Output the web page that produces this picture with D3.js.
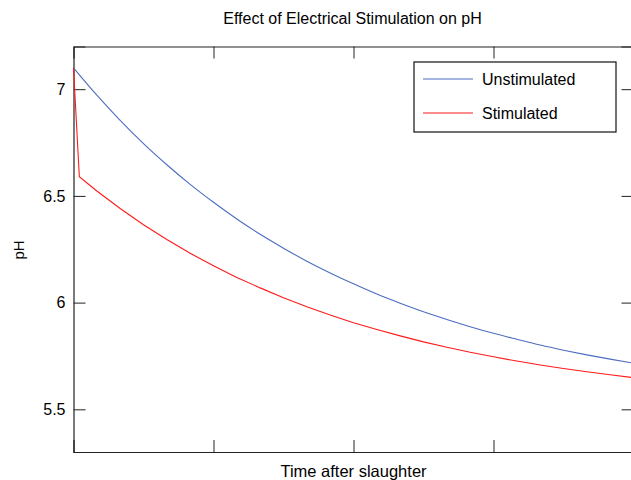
<!DOCTYPE html>
<html>
<head>
<meta charset="utf-8">
<script src="https://cdn.jsdelivr.net/npm/d3@7"></script>
<style>
  body { margin: 0; background: #fff; }
  svg { display: block; font-family: "Liberation Sans", Arial, sans-serif; }
  .axis path, .axis line { stroke: #222; }
</style>
</head>
<body>
<svg id="chart" width="631" height="480"></svg>
<script>
// time after slaughter (hours) and pH readings
var hours = [0, 1, 2, 3, 4, 5, 6, 7, 8, 9, 10, 11, 12, 13, 14, 15, 16, 17, 18, 19, 20, 21, 22, 23, 24];
var unstimulated = [7.100, 6.972, 6.854, 6.745, 6.646, 6.554, 6.470, 6.392, 6.320, 6.255, 6.194, 6.139, 6.088,
                    6.040, 5.997, 5.957, 5.921, 5.887, 5.856, 5.828, 5.801, 5.777, 5.755, 5.735, 5.716];
var stimHours = [0, 0.25, 1, 2, 3, 4, 5, 6, 7, 8, 9, 10, 11, 12, 13, 14, 15, 16, 17, 18, 19, 20, 21, 22, 23, 24];
var stimulated = [7.100, 6.590, 6.523, 6.441, 6.365, 6.296, 6.231, 6.173, 6.118, 6.069, 6.023, 5.981, 5.942, 5.906,
                  5.874, 5.844, 5.816, 5.791, 5.767, 5.746, 5.726, 5.708, 5.691, 5.676, 5.662, 5.648];
var seriesNames = ['Unstimulated', 'Stimulated'];
var seriesColors = ['#4d6dc2', '#ff1a1a'];
var yTicks = [5.5, 6, 6.5, 7];
var xTicks = [6, 12, 18];

var svg = d3.select('#chart');
var margin = {t: 46.5, r: -2.5, b: 28, l: 73.5};
var svgWidth = +svg.attr('width');
var svgHeight = +svg.attr('height');
var chartWidth = svgWidth - margin.l - margin.r;
var chartHeight = svgHeight - margin.t - margin.b;

var xScale = d3.scaleLinear().domain([0, 24]).range([0, chartWidth]);
var yScale = d3.scaleLinear().domain([5.3, 7.2]).range([chartHeight, 0]);

var g = svg.append('g').attr('transform', 'translate(' + [margin.l, margin.t] + ')');

// axes with inward ticks on all four sides
g.append('g').attr('class', 'axis')
    .attr('transform', 'translate(0,' + chartHeight + ')')
    .call(d3.axisTop(xScale).tickValues(xTicks).tickSize(12).tickFormat(''));
g.append('g').attr('class', 'axis')
    .call(d3.axisBottom(xScale).tickValues(xTicks).tickSize(12).tickFormat(''));
g.append('g').attr('class', 'axis y')
    .call(d3.axisRight(yScale).tickValues(yTicks).tickSize(12).tickFormat(d3.format('')));
g.append('g').attr('class', 'axis')
    .attr('transform', 'translate(' + chartWidth + ',0)')
    .call(d3.axisLeft(yScale).tickValues(yTicks).tickSize(12).tickFormat(''));

g.selectAll('.axis path').attr('stroke-width', 1.2);

// left tick labels sit outside the axis
g.select('.axis.y').selectAll('text')
    .attr('x', -8)
    .attr('text-anchor', 'end')
    .attr('fill', '#000')
    .style('font-size', '16px')
    .style('font-family', '"Liberation Sans", Arial, sans-serif');

var line = d3.line()
    .x(function(d) { return xScale(d[0]); })
    .y(function(d) { return yScale(d[1]); });

var blueData = hours.map(function(h, i) { return [h, unstimulated[i]]; });
var redData = stimHours.map(function(h, i) { return [h, stimulated[i]]; });

g.append('path').datum(blueData)
    .attr('d', line.curve(d3.curveMonotoneX))
    .attr('fill', 'none').attr('stroke', seriesColors[0]).attr('stroke-width', 1.1);
g.append('path').datum(redData)
    .attr('d', line.curve(d3.curveLinear))
    .attr('fill', 'none').attr('stroke', seriesColors[1]).attr('stroke-width', 1.1);

// title and axis labels
svg.append('text')
    .attr('x', 352.5).attr('y', 24)
    .attr('text-anchor', 'middle')
    .style('font-size', '16px')
    .text('Effect of Electrical Stimulation on pH');
svg.append('text')
    .attr('x', 353.5).attr('y', 477)
    .attr('text-anchor', 'middle')
    .style('font-size', '16.5px')
    .text('Time after slaughter');
svg.append('text')
    .attr('transform', 'translate(24,250)rotate(-90)')
    .attr('text-anchor', 'middle')
    .style('font-size', '15px')
    .text('pH');

// legend
var legend = svg.append('g').attr('transform', 'translate(414,62)');
legend.append('rect')
    .attr('width', 202).attr('height', 70)
    .attr('fill', '#fff').attr('stroke', '#111').attr('stroke-width', 1.2);
var items = legend.selectAll('.item')
    .data(seriesNames)
    .enter()
    .append('g')
    .attr('class', 'item')
    .attr('transform', function(d, i) { return 'translate(0,' + (17 + i * 34) + ')'; });
items.append('line')
    .attr('x1', 9).attr('x2', 59)
    .attr('stroke', function(d, i) { return seriesColors[i]; })
    .attr('stroke-width', 1.1);
items.append('text')
    .attr('x', 68).attr('y', 6)
    .style('font-size', '16px')
    .text(function(d) { return d; });
</script>
</body>
</html>
